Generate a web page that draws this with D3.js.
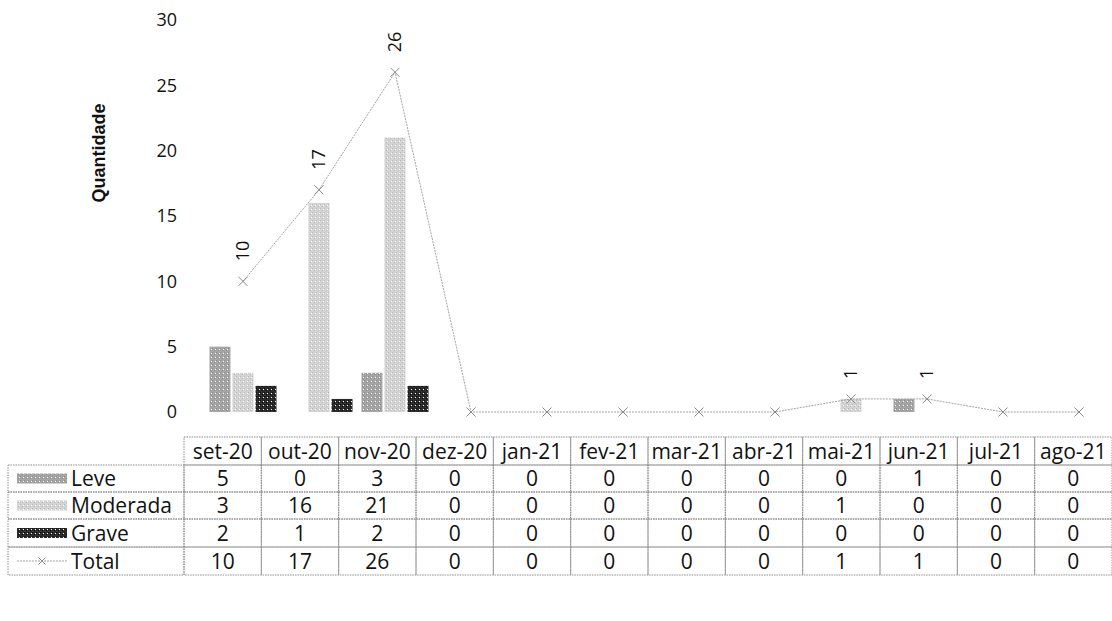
<!DOCTYPE html>
<html>
<head>
<meta charset="utf-8">
<script src="https://cdn.jsdelivr.net/npm/d3@7"></script>
<style>
  html, body { margin: 0; padding: 0; background: #fff; }
  svg { display: block; }
  text { font-family: "Open Sans", sans-serif; fill: #111; }
</style>
</head>
<body>
<svg id="chart" width="1112" height="621"></svg>
<script>
const months = ["set-20","out-20","nov-20","dez-20","jan-21","fev-21","mar-21","abr-21","mai-21","jun-21","jul-21","ago-21"];
const seriesNames = ["Leve","Moderada","Grave"];
const leve     = [5, 0, 3, 0, 0, 0, 0, 0, 0, 1, 0, 0];
const moderada = [3, 16, 21, 0, 0, 0, 0, 0, 1, 0, 0, 0];
const grave    = [2, 1, 2, 0, 0, 0, 0, 0, 0, 0, 0, 0];
const total    = [10, 17, 26, 0, 0, 0, 0, 0, 1, 1, 0, 0];
const yTicks   = [0, 5, 10, 15, 20, 25, 30];
const yLabel   = "Quantidade";

const colors = { "Leve": "#a6a6a6", "Moderada": "#d4d4d4", "Grave": "#2b2b2b" };
const lineColor = "#a3a3a3";

const svg = d3.select("#chart");
const defs = svg.append("defs");

// dithered texture patterns to mimic the scanned look
function makePattern(id, base, dot) {
  const p = defs.append("pattern")
    .attr("id", id).attr("width", 4).attr("height", 4)
    .attr("patternUnits", "userSpaceOnUse");
  p.append("rect").attr("width", 4).attr("height", 4).attr("fill", base);
  p.append("rect").attr("x", 0).attr("y", 0).attr("width", 1).attr("height", 1).attr("fill", dot);
  p.append("rect").attr("x", 2).attr("y", 2).attr("width", 1).attr("height", 1).attr("fill", dot);
  p.append("rect").attr("x", 3).attr("y", 1).attr("width", 1).attr("height", 1).attr("fill", "#fff");
}
makePattern("pLeve", colors["Leve"], "#8a8a8a");
makePattern("pModerada", colors["Moderada"], "#b8b8b8");
makePattern("pGrave", colors["Grave"], "#111");
const fills = { "Leve": "url(#pLeve)", "Moderada": "url(#pModerada)", "Grave": "url(#pGrave)" };

const data = { "Leve": leve, "Moderada": moderada, "Grave": grave };

// scales
const x = d3.scaleBand().domain(months).range([205, 1117]).padding(0);
const x1 = d3.scaleBand().domain(seriesNames).range([4.5, x.bandwidth() - 4.5]).paddingInner(0.09);
const y = d3.scaleLinear().domain([0, 30]).range([412, 20]);

// y axis
const yAxis = svg.append("g")
  .attr("transform", "translate(177,0)")
  .call(d3.axisLeft(y).tickValues(yTicks).tickSize(0).tickPadding(0));
yAxis.select(".domain").remove();
yAxis.selectAll("text")
  .style("font-family", "'Open Sans', sans-serif")
  .style("font-size", "18px")
  .attr("fill", "#111");

svg.append("text")
  .attr("transform", "translate(105,153) rotate(-90)")
  .attr("text-anchor", "middle")
  .style("font-family", "'Liberation Sans', Arial, sans-serif")
  .style("font-weight", "bold")
  .style("font-size", "18px")
  .text(yLabel);

// bars
const bars = svg.append("g");
seriesNames.forEach(s => {
  bars.selectAll(null)
    .data(months.map((m, i) => ({ m, v: data[s][i] })).filter(d => d.v > 0))
    .enter().append("rect")
    .attr("x", d => x(d.m) + x1(s))
    .attr("y", d => y(d.v))
    .attr("width", x1.bandwidth())
    .attr("height", d => y(0) - y(d.v))
    .attr("fill", fills[s]);
});

// total line
const pts = months.map((m, i) => ({ m, v: total[i] }));
const cx = d => x(d.m) + x.bandwidth() / 2;
svg.append("path")
  .datum(pts)
  .attr("fill", "none")
  .attr("stroke", lineColor)
  .attr("stroke-width", 1)
  .attr("stroke-dasharray", "2,1")
  .attr("d", d3.line().x(cx).y(d => y(d.v)));

const mk = svg.append("g");
pts.forEach(d => {
  const px = cx(d), py = y(d.v), r = 4.5;
  mk.append("path")
    .attr("d", `M${px - r},${py - r}L${px + r},${py + r}M${px - r},${py + r}L${px + r},${py - r}`)
    .attr("stroke", "#8a8a8a").attr("stroke-width", 1).attr("fill", "none");
});

// data labels (non-zero totals)
svg.append("g").selectAll("text")
  .data(pts.filter(d => d.v > 0))
  .enter().append("text")
  .attr("transform", d => `translate(${cx(d)},${y(d.v) - 20}) rotate(-90)`)
  .attr("dy", "0.36em")
  .attr("text-anchor", "start")
  .style("font-size", "18px")
  .text(d => d.v);

// data table
const tx = d3.scaleBand().domain(months).range([184, 1112]).padding(0);
const rowY = [437, 465, 492, 519, 547, 575];
const tbl = svg.append("g");
const border = sel => sel.attr("stroke", "#8c8c8c").attr("stroke-width", 1)
  .attr("stroke-dasharray", "1.5,1").attr("fill", "none");
const fs = 21;

// header cells
months.forEach(m => {
  tbl.append("rect").attr("x", tx(m)).attr("y", rowY[0])
    .attr("width", tx.bandwidth()).attr("height", rowY[1] - rowY[0]).call(border);
  tbl.append("text")
    .attr("x", tx(m) + tx.bandwidth() / 2).attr("y", (rowY[0] + rowY[1]) / 2 + 7.5)
    .attr("text-anchor", "middle").style("font-size", fs + "px").text(m);
});

const rows = [
  { name: "Leve", vals: leve },
  { name: "Moderada", vals: moderada },
  { name: "Grave", vals: grave },
  { name: "Total", vals: total }
];
rows.forEach((r, ri) => {
  const y0 = rowY[ri + 1], y1 = rowY[ri + 2];
  const mid = (y0 + y1) / 2;
  tbl.append("rect").attr("x", 8).attr("y", y0).attr("width", 176).attr("height", y1 - y0).call(border);
  months.forEach((m, i) => {
    tbl.append("rect").attr("x", tx(m)).attr("y", y0)
      .attr("width", tx.bandwidth()).attr("height", y1 - y0).call(border);
    tbl.append("text")
      .attr("x", tx(m) + tx.bandwidth() / 2).attr("y", mid + 7.5)
      .attr("text-anchor", "middle").style("font-size", fs + "px").text(r.vals[i]);
  });
  // legend key
  if (r.name === "Total") {
    tbl.append("line").attr("x1", 17).attr("x2", 67).attr("y1", mid).attr("y2", mid)
      .attr("stroke", lineColor).attr("stroke-dasharray", "2,1");
    const px = 42, rr = 3.5;
    tbl.append("path")
      .attr("d", `M${px - rr},${mid - rr}L${px + rr},${mid + rr}M${px - rr},${mid + rr}L${px + rr},${mid - rr}`)
      .attr("stroke", "#8a8a8a").attr("fill", "none");
  } else {
    tbl.append("rect").attr("x", 17).attr("y", mid - 5).attr("width", 50).attr("height", 10)
      .attr("fill", fills[r.name]);
  }
  tbl.append("text").attr("x", 71).attr("y", mid + 7.5)
    .style("font-size", fs + "px").text(r.name);
});
</script>
</body>
</html>
